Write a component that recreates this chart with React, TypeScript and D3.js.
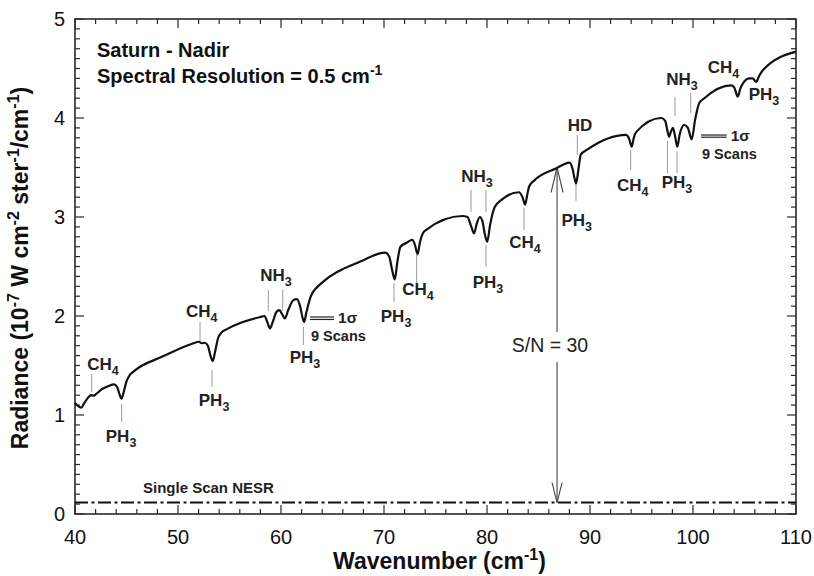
import React from "react";
import * as d3 from "d3";

// Nadir spectrum: wavenumber (cm-1) and radiance (1e-7 W cm-2 sr-1 / cm-1)
const spectrumWavenumber = [
  40.0, 40.3, 40.6, 40.9, 41.3, 41.6, 41.8, 42.1, 42.6, 43.2, 43.8, 44.1, 44.35, 44.52, 44.7, 45.0, 45.3, 45.7,
  48.5, 51.5, 52.0, 52.3, 52.6, 52.9, 53.15, 53.38, 53.6, 53.9, 54.2, 54.8,
  58.0, 58.4, 58.7, 58.93, 59.2, 59.55, 59.85, 60.1, 60.38, 60.7, 61.2, 61.55, 61.85, 62.1, 62.25, 62.45, 62.9, 63.4, 63.9,
  67.7, 70.1, 70.5, 70.8, 71.05, 71.3, 71.6, 72.2, 72.75, 73.0, 73.26, 73.5, 73.8, 74.1,
  77.6, 78.1, 78.45, 78.75, 79.0, 79.3, 79.55, 79.8, 80.02, 80.3, 80.75, 81.5,
  83.1, 83.45, 83.7, 83.9, 84.1, 84.6, 86.7, 88.0, 88.3, 88.5, 88.65, 88.85, 89.1, 89.8,
  93.5, 93.8, 94.05, 94.25, 94.5, 96.9, 97.3, 97.5, 97.68, 97.85, 98.05, 98.25, 98.48, 98.7, 99.15, 99.5, 99.88, 100.2, 100.6, 101.1,
  103.7, 104.0, 104.35, 104.6, 104.85, 105.5, 105.8, 106.13, 106.4, 106.8, 110.0,
];
const spectrumRadiance = [
  1.12, 1.09, 1.075, 1.12, 1.18, 1.2, 1.195, 1.215, 1.26, 1.29, 1.31, 1.28, 1.2, 1.165, 1.22, 1.34, 1.4, 1.44,
  1.59, 1.725, 1.74, 1.725, 1.73, 1.7, 1.6, 1.545, 1.64, 1.78, 1.83, 1.87,
  1.99, 2.0, 1.93, 1.875, 1.94, 2.04, 2.06, 2.02, 1.975, 2.06, 2.16, 2.17, 2.1, 1.98, 1.94, 2.03, 2.2, 2.28, 2.33,
  2.55, 2.64, 2.6, 2.46, 2.37, 2.55, 2.7, 2.74, 2.77, 2.72, 2.625, 2.75, 2.84, 2.87,
  3.01, 3.0, 2.91, 2.835, 2.93, 3.0, 2.96, 2.82, 2.75, 2.92, 3.1, 3.18,
  3.25, 3.2, 3.125, 3.22, 3.31, 3.37, 3.49, 3.55, 3.49, 3.39, 3.34, 3.46, 3.63, 3.685,
  3.83, 3.79, 3.71, 3.8, 3.86, 4.0, 3.97, 3.88, 3.81, 3.86, 3.9, 3.82, 3.71, 3.83, 3.93, 3.9, 3.785, 3.98, 4.15, 4.2,
  4.33, 4.31, 4.215, 4.3, 4.35, 4.4, 4.4, 4.365, 4.42, 4.485, 4.67,
];

// Single-scan noise level and the S/N marker
const nesrRadiance = 0.115;
const snWavenumber = 86.8;
const snSignal = 3.5;
const snLabel = "S/N = 30";

const xTickValues = [40, 50, 60, 70, 80, 90, 100, 110];
const yTickValues = [0, 1, 2, 3, 4, 5];

// Line identifications: molecule, subscript, wavenumber of text, radiance of text baseline
type Ident = { base: string; sub: string; v: number; r: number };
const identLabels: Ident[] = [
  { base: "CH", sub: "4", v: 42.72, r: 1.455 },
  { base: "PH", sub: "3", v: 44.47, r: 0.727 },
  { base: "CH", sub: "4", v: 52.3, r: 1.99 },
  { base: "PH", sub: "3", v: 53.5, r: 1.091 },
  { base: "NH", sub: "3", v: 59.51, r: 2.354 },
  { base: "PH", sub: "3", v: 62.33, r: 1.525 },
  { base: "PH", sub: "3", v: 71.17, r: 1.939 },
  { base: "CH", sub: "4", v: 73.3, r: 2.212 },
  { base: "NH", sub: "3", v: 79.03, r: 3.357 },
  { base: "PH", sub: "3", v: 80.1, r: 2.283 },
  { base: "CH", sub: "4", v: 83.69, r: 2.687 },
  { base: "HD", sub: "", v: 89.03, r: 3.872 },
  { base: "PH", sub: "3", v: 88.71, r: 2.909 },
  { base: "CH", sub: "4", v: 94.15, r: 3.266 },
  { base: "PH", sub: "3", v: 98.45, r: 3.293 },
  { base: "NH", sub: "3", v: 98.93, r: 4.333 },
  { base: "CH", sub: "4", v: 102.96, r: 4.458 },
  { base: "PH", sub: "3", v: 106.89, r: 4.182 },
];

// Leader lines: wavenumber, radiance from, radiance to
const identLeaders: [number, number, number][] = [
  [41.62, 1.414, 1.232],
  [44.53, 1.111, 0.929],
  [52.14, 1.939, 1.737],
  [53.3, 1.455, 1.283],
  [58.77, 2.263, 2.051],
  [60.17, 2.263, 2.051],
  [62.17, 1.889, 1.707],
  [70.97, 2.333, 2.141],
  [73.17, 2.616, 2.333],
  [78.45, 3.273, 3.05],
  [79.9, 3.273, 3.05],
  [79.9, 2.717, 2.495],
  [83.59, 3.091, 2.869],
  [88.77, 3.828, 3.626],
  [88.64, 3.343, 3.162],
  [93.95, 3.677, 3.475],
  [97.52, 3.768, 3.444],
  [98.45, 3.667, 3.444],
  [98.25, 4.215, 4.02],
  [99.78, 4.253, 4.051],
];

// Noise bars for 9 co-added scans: start wavenumber, end wavenumber, upper radiance, lower radiance
const sigmaBars: [number, number, number, number][] = [
  [62.82, 65.15, 1.99, 1.965],
  [100.78, 103.27, 3.828, 3.806],
];

const W = 814;
const H = 576;
const FONT = "Liberation Sans, Arial, Helvetica, sans-serif";

export default function App() {
  const x = d3.scaleLinear().domain([40, 110]).range([75, 796]);
  const y = d3.scaleLinear().domain([0, 5]).range([514, 19]);

  const pts: [number, number][] = spectrumWavenumber.map((v, i) => [v, spectrumRadiance[i]]);
  const line = d3
    .line<[number, number]>()
    .x((d) => x(d[0]))
    .y((d) => y(d[1]))
    .curve(d3.curveMonotoneX);

  const xMinor = d3.range(40, 110.01, 2).filter((v) => Math.abs(v % 10) > 1e-6);
  const yMinor = d3.range(0, 50.01, 1).map((k) => k / 10).filter((v) => Math.abs(v - Math.round(v)) > 1e-6);

  const x0 = x(40), x1 = x(110), y0 = y(0), y1 = y(5);
  const axisColor = "#2a2a2a";
  const majorLen = 9;
  const minorLen = 5;

  const snX = x(snWavenumber);
  const snTop = y(snSignal);
  const snBottom = y(nesrRadiance);

  return (
    <svg
      width={W}
      height={H}
      viewBox={`0 0 ${W} ${H}`}
      style={{ position: "absolute", left: 0, top: 0, background: "#fff" }}
      fontFamily={FONT}
    >
      <rect x={0} y={0} width={W} height={H} fill="#fff" />

      {/* ticks */}
      <g stroke={axisColor} strokeWidth={1.2}>
        {xTickValues.map((v) => (
          <g key={`xt${v}`}>
            <line x1={x(v)} x2={x(v)} y1={y0} y2={y0 - majorLen} />
            <line x1={x(v)} x2={x(v)} y1={y1} y2={y1 + majorLen} />
          </g>
        ))}
        {xMinor.map((v) => (
          <g key={`xm${v}`}>
            <line x1={x(v)} x2={x(v)} y1={y0} y2={y0 - minorLen} />
            <line x1={x(v)} x2={x(v)} y1={y1} y2={y1 + minorLen} />
          </g>
        ))}
        {yTickValues.map((v) => (
          <g key={`yt${v}`}>
            <line x1={x0} x2={x0 + majorLen} y1={y(v)} y2={y(v)} />
            <line x1={x1} x2={x1 - majorLen} y1={y(v)} y2={y(v)} />
          </g>
        ))}
        {yMinor.map((v) => (
          <g key={`ym${v}`}>
            <line x1={x0} x2={x0 + minorLen} y1={y(v)} y2={y(v)} />
            <line x1={x1} x2={x1 - minorLen} y1={y(v)} y2={y(v)} />
          </g>
        ))}
      </g>
      <rect x={x0} y={y1} width={x1 - x0} height={y0 - y1} fill="none" stroke={axisColor} strokeWidth={1.6} />

      {/* tick labels */}
      <g fontSize={20} fill="#111">
        {xTickValues.map((v) => (
          <text key={`xl${v}`} x={x(v)} y={543.5} textAnchor="middle">
            {v}
          </text>
        ))}
        {yTickValues.map((v) => (
          <text key={`yl${v}`} x={65} y={y(v) + 7} textAnchor="end">
            {v}
          </text>
        ))}
      </g>

      {/* axis titles */}
      <text x={(x0 + x1) / 2 + 4} y={569} textAnchor="middle" fontSize={23} fontWeight="bold" fill="#111">
        Wavenumber (cm
        <tspan dy={-9} fontSize={16}>-1</tspan>
        <tspan dy={9}>)</tspan>
      </text>
      <text
        transform={`translate(28,268) rotate(-90)`}
        textAnchor="middle"
        fontSize={23}
        fontWeight="bold"
        fill="#111"
      >
        Radiance (10
        <tspan dy={-9} fontSize={16}>-7</tspan>
        <tspan dy={9}> W cm</tspan>
        <tspan dy={-9} fontSize={16}>-2</tspan>
        <tspan dy={9}> ster</tspan>
        <tspan dy={-9} fontSize={16}>-1</tspan>
        <tspan dy={9}>/cm</tspan>
        <tspan dy={-9} fontSize={16}>-1</tspan>
        <tspan dy={9}>)</tspan>
      </text>

      {/* header */}
      <g fontWeight="bold" fontSize={20} fill="#111">
        <text x={97} y={57}>Saturn - Nadir</text>
        <text x={97} y={83}>
          Spectral Resolution = 0.5 cm
          <tspan dy={-8} fontSize={14}>-1</tspan>
        </text>
      </g>

      {/* NESR level */}
      <line
        x1={x0}
        x2={x1}
        y1={y(nesrRadiance)}
        y2={y(nesrRadiance)}
        stroke="#111"
        strokeWidth={2}
        strokeDasharray="13 3.5 3 3.5"
      />
      <text x={143} y={492.5} fontSize={15} fontWeight="bold" fill="#222">
        Single Scan NESR
      </text>

      {/* S/N arrow */}
      <g stroke="#444" strokeWidth={1.1} fill="none">
        <line x1={snX} x2={snX} y1={snTop} y2={332} />
        <line x1={snX} x2={snX} y1={362} y2={snBottom} />
        <polyline points={`${snX - 6},${snTop + 25} ${snX},${snTop} ${snX + 6},${snTop + 25}`} />
        <polyline points={`${snX - 5},${snBottom - 20} ${snX},${snBottom} ${snX + 5},${snBottom - 20}`} />
      </g>
      <text x={550} y={352} textAnchor="middle" fontSize={19.5} fill="#222">
        {snLabel}
      </text>

      {/* leader lines */}
      <g stroke="#9a9a9a" strokeWidth={1}>
        {identLeaders.map((d, i) => (
          <line key={`ld${i}`} x1={x(d[0])} x2={x(d[0])} y1={y(d[1])} y2={y(d[2])} />
        ))}
      </g>

      {/* spectrum */}
      <path d={line(pts) ?? ""} fill="none" stroke="#111" strokeWidth={2.2} strokeLinejoin="round" />

      {/* noise bars */}
      <g stroke="#222" strokeWidth={1.2}>
        {sigmaBars.map((b, i) => (
          <g key={`sb${i}`}>
            <line x1={x(b[0])} x2={x(b[1])} y1={y(b[2])} y2={y(b[2])} />
            <line x1={x(b[0])} x2={x(b[1])} y1={y(b[3])} y2={y(b[3])} />
          </g>
        ))}
      </g>
      <g fontWeight="bold" fill="#222">
        {sigmaBars.map((b, i) => (
          <g key={`st${i}`}>
            <text x={x(b[1]) + 4} y={y(b[2]) + 6} fontSize={15.5}>1σ</text>
            <text x={x(b[0]) + 1} y={y(b[3]) + 22} fontSize={14.5}>9 Scans</text>
          </g>
        ))}
      </g>

      {/* line identifications */}
      <g fontWeight="bold" fontSize={17} fill="#222">
        {identLabels.map((d, i) => (
          <text key={`id${i}`} x={x(d.v)} y={y(d.r)} textAnchor="middle">
            {d.base}
            {d.sub && (
              <tspan dy={5} fontSize={12.5}>
                {d.sub}
              </tspan>
            )}
          </text>
        ))}
      </g>
    </svg>
  );
}
